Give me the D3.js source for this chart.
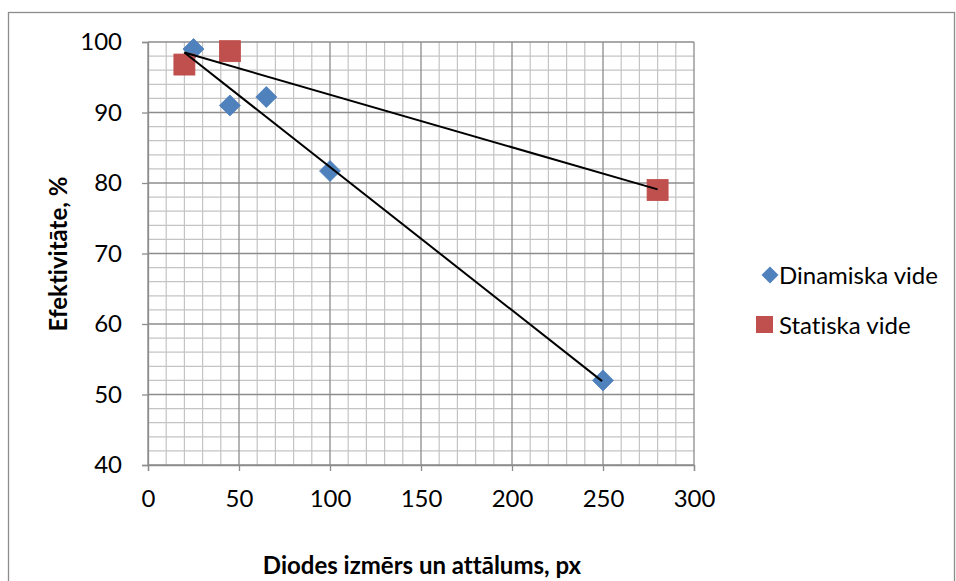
<!DOCTYPE html>
<html><head><meta charset="utf-8">
<script src="https://cdn.jsdelivr.net/npm/d3@7"></script>
<style>body{margin:0;background:#fff;} svg{display:block;} text{font-family:Lato, "Liberation Sans", sans-serif;fill:#000;font-variant-ligatures:none;font-feature-settings:"liga" 0;}</style>
</head><body>
<svg id="c" width="956" height="581"></svg>
<script>
const xTicks = [0, 50, 100, 150, 200, 250, 300];
const yTicks = [40, 50, 60, 70, 80, 90, 100];
const seriesNames = ["Dinamiska vide", "Statiska vide"];
const dynX = [25, 45, 65, 100, 250];
const dynY = [99, 91, 92.2, 81.7, 52];
const statX = [20, 45, 280];
const statY = [96.8, 98.7, 79];
const lineDynX = [20, 249.5];
const lineDynY = [98.5, 51.9];
const lineStatX = [20, 280];
const lineStatY = [98.5, 79.1];
const xTitle = "Diodes izmērs un attālums, px";
const yTitle = "Efektivitāte, %";

const svg = d3.select("#c");
const x = d3.scaleLinear().domain([0, 300]).range([148, 694]);
const y = d3.scaleLinear().domain([40, 100]).range([465, 42]);
const blue = "#4F81BD", red = "#C0504D";
const FS = "24px";

svg.append("rect").attr("x", 8.5).attr("y", 12.5).attr("width", 946).attr("height", 600)
  .attr("fill", "none").attr("stroke", "#8c8c8c").attr("stroke-width", 1.3);

const g = svg.append("g");
d3.range(0, 301, 10).filter(v => v % 50 !== 0).forEach(v => {
  g.append("line").attr("x1", x(v)).attr("x2", x(v)).attr("y1", y(40)).attr("y2", y(100))
    .attr("stroke", "#c4c4c4").attr("stroke-width", 1.2);
});
d3.range(40, 101, 2).filter(v => v % 10 !== 0).forEach(v => {
  g.append("line").attr("x1", x(0)).attr("x2", x(300)).attr("y1", y(v)).attr("y2", y(v))
    .attr("stroke", "#c4c4c4").attr("stroke-width", 1.2);
});
xTicks.forEach(v => {
  g.append("line").attr("x1", x(v)).attr("x2", x(v)).attr("y1", y(40)).attr("y2", y(100))
    .attr("stroke", "#8c8c8c").attr("stroke-width", 1.3);
});
yTicks.forEach(v => {
  g.append("line").attr("x1", x(0)).attr("x2", x(300)).attr("y1", y(v)).attr("y2", y(v))
    .attr("stroke", "#8c8c8c").attr("stroke-width", 1.3);
});

const xAxis = d3.axisBottom(x).tickValues(xTicks).tickSize(6).tickPadding(19).tickFormat(d3.format("d"));
const yAxis = d3.axisLeft(y).tickValues(yTicks).tickSize(6).tickPadding(20).tickFormat(d3.format("d"));
const gx = svg.append("g").attr("transform", `translate(0,${y(40)})`).call(xAxis);
const gy = svg.append("g").attr("transform", `translate(${x(0)},0)`).call(yAxis);
[gx, gy].forEach(a => {
  a.selectAll(".domain").attr("stroke", "#8c8c8c").attr("stroke-width", 1.3);
  a.selectAll(".tick line").attr("stroke", "#8c8c8c").attr("stroke-width", 1.3);
  a.selectAll("text").style("font-family", "Lato, sans-serif").style("font-size", FS).attr("fill", "#000");
});

const line = d3.line().x(d => x(d[0])).y(d => y(d[1]));
function diamond(cx, cy, s) { return `M${cx},${cy - s}L${cx + s},${cy}L${cx},${cy + s}L${cx - s},${cy}Z`; }
const dsz = 10.5, ssz = 10.5;
svg.selectAll(".dyn").data(dynX.map((v, i) => [v, dynY[i]])).enter().append("path")
  .attr("d", d => diamond(x(d[0]), y(d[1]), dsz)).attr("fill", blue).attr("stroke", "#4a7ebb").attr("stroke-width", 0.8);
svg.selectAll(".st").data(statX.map((v, i) => [v, statY[i]])).enter().append("rect")
  .attr("x", d => x(d[0]) - ssz).attr("y", d => y(d[1]) - ssz).attr("width", 2 * ssz).attr("height", 2 * ssz)
  .attr("fill", red).attr("stroke", "#be4b48").attr("stroke-width", 0.8);
svg.append("path").datum(lineDynX.map((v, i) => [v, lineDynY[i]])).attr("d", line)
  .attr("stroke", "#000").attr("stroke-width", 2).attr("fill", "none");
svg.append("path").datum(lineStatX.map((v, i) => [v, lineStatY[i]])).attr("d", line)
  .attr("stroke", "#000").attr("stroke-width", 2).attr("fill", "none");

svg.append("text").attr("x", 422).attr("y", 574).attr("text-anchor", "middle")
  .style("font-size", FS).style("font-weight", "bold").text(xTitle);
svg.append("text").attr("transform", "translate(67,254) rotate(-90)").attr("text-anchor", "middle")
  .style("font-size", FS).style("font-weight", "bold").text(yTitle);

const lg = svg.append("g");
lg.append("path").attr("d", diamond(770, 275, 8.5)).attr("fill", blue);
lg.append("text").attr("x", 779).attr("y", 284).style("font-size", FS).text(seriesNames[0]);
lg.append("rect").attr("x", 756).attr("y", 316).attr("width", 17).attr("height", 17).attr("fill", red);
lg.append("text").attr("x", 779).attr("y", 334).style("font-size", FS).text(seriesNames[1]);
</script>
</body></html>
